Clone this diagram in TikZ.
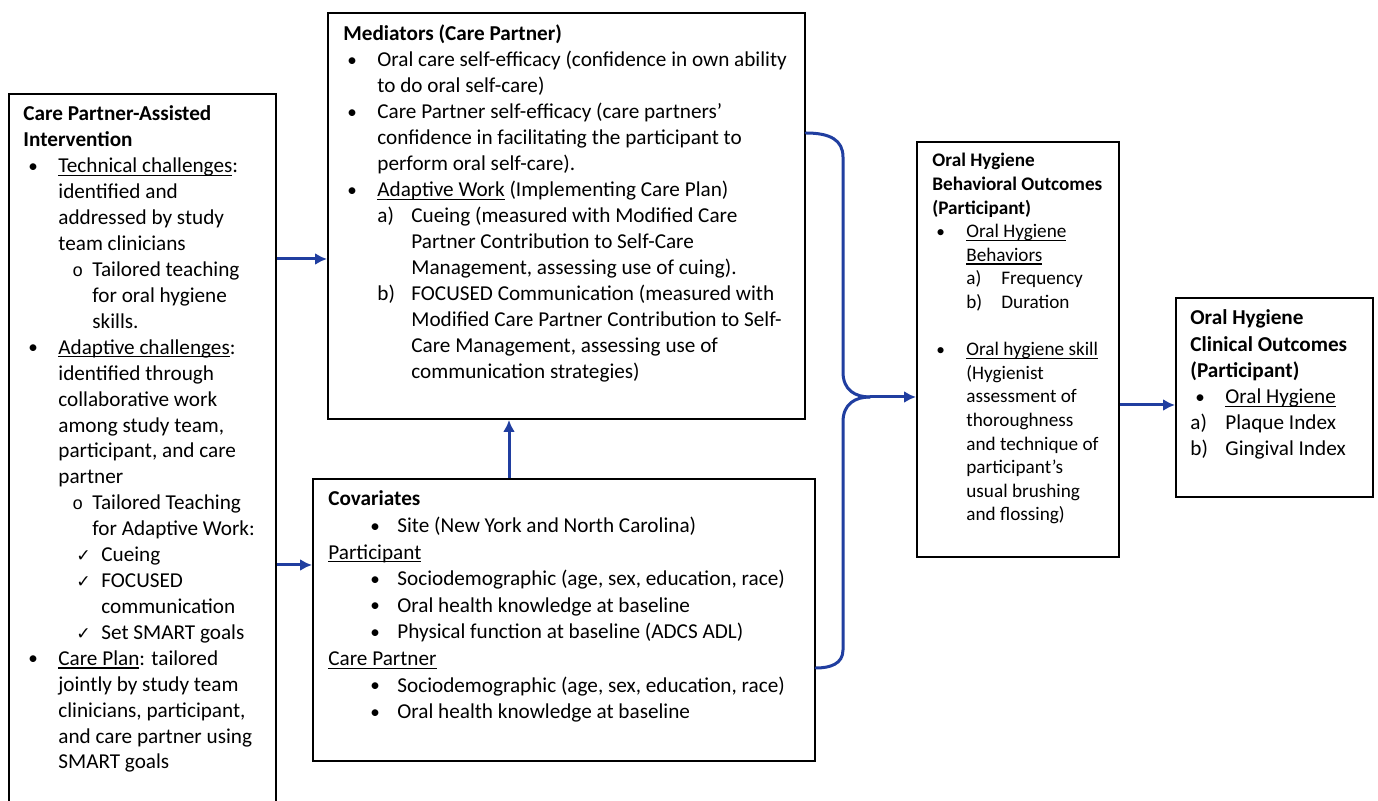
\documentclass[tikz,border=0pt]{standalone}
\usepackage{fontspec}
\setmainfont{Carlito}
\newfontfamily\dejavu{DejaVu Sans}
\newfontfamily\monof{Liberation Mono}
\usetikzlibrary{arrows.meta,fit}
\definecolor{arrblue}{RGB}{32,62,160}
\newcommand\ul[1]{\leavevmode\setbox0\hbox{#1}\rlap{\rule[-1.6pt]{\wd0}{0.55pt}}\box0\relax}
% marker at offset #1, text at offset #1+#2
\newcommand\Mk[4]{\leavevmode\hspace*{#1}\makebox[#2][l]{#3}#4}
\newcommand\bul{\raisebox{0.2pt}{\scalebox{0.9}{•}}}
\newcommand\circo{{\monof\fontsize{9}{9}\selectfont o}}
\newcommand\chk{{\dejavu\fontsize{8.6}{9}\selectfont ✓}}
\tikzset{
  box/.style={draw=black, line width=1pt, inner sep=0pt, fill=none},
  txt/.style={anchor=base west, inner sep=0pt, text=black},
  arr/.style={draw=arrblue, line width=1.5pt, -{Latex[length=6pt,width=6pt]}},
  brace/.style={draw=arrblue, line width=1.5pt, line cap=round},
}
\begin{document}
\begin{tikzpicture}[x=0.5pt,y=-0.5pt]
\useasboundingbox (0,0) rectangle (1378,801);
\fill[white] (0,0) rectangle (1378,801);
% boxes
\node[box, fit={(9,94) (276,812)}] (left) {};
\node[box, fit={(328,13) (805,419)}] (med) {};
\node[box, fit={(313,479) (815,761)}] (cov) {};
\node[box, fit={(917,142) (1119,557)}] (beh) {};
\node[box, fit={(1176,298) (1373,497)}] (cli) {};
% texts
\node[txt] (lefttxt) at (23,121) {\parbox[t]{130pt}{\fontsize{10.6}{12.96}\selectfont\raggedright
\textbf{Care Partner-Assisted}\\
\textbf{Intervention}\\
\Mk{2.5pt}{15pt}{\bul}{\ul{Technical challenges}:}\\
\hspace*{17.5pt}identified and\\
\hspace*{17.5pt}addressed by study\\
\hspace*{17.5pt}team clinicians\\
\Mk{24.5pt}{10pt}{\circo}{Tailored teaching}\\
\hspace*{34.5pt}for oral hygiene\\
\hspace*{34.5pt}skills.\\
\Mk{2.5pt}{15pt}{\bul}{\ul{Adaptive challenges}:}\\
\hspace*{17.5pt}identified through\\
\hspace*{17.5pt}collaborative work\\
\hspace*{17.5pt}among study team,\\
\hspace*{17.5pt}participant, and care\\
\hspace*{17.5pt}partner\\
\Mk{24.5pt}{10pt}{\circo}{Tailored Teaching}\\
\hspace*{34.5pt}for Adaptive Work:\\
\Mk{26.5pt}{12.5pt}{\chk}{Cueing}\\
\Mk{26.5pt}{12.5pt}{\chk}{FOCUSED}\\
\hspace*{39pt}communication\\
\Mk{26.5pt}{12.5pt}{\chk}{Set SMART goals}\\
\Mk{2.5pt}{15pt}{\bul}{\ul{Care Plan}: tailored}\\
\hspace*{17.5pt}jointly by study team\\
\hspace*{17.5pt}clinicians, participant,\\
\hspace*{17.5pt}and care partner using\\
\hspace*{17.5pt}SMART goals}};
\node[txt] (medtxt) at (343,41) {\parbox[t]{230pt}{\fontsize{10.6}{13}\selectfont\raggedright
\textbf{Mediators (Care Partner)}\\
\Mk{2pt}{15pt}{\bul}{Oral care self-efficacy (confidence in own ability}\\
\hspace*{17pt}to do oral self-care)\\
\Mk{2pt}{15pt}{\bul}{Care Partner self-efficacy (care partners’}\\
\hspace*{17pt}confidence in facilitating the participant to\\
\hspace*{17pt}perform oral self-care).\\
\Mk{2pt}{15pt}{\bul}{\ul{Adaptive Work} (Implementing Care Plan)}\\
\Mk{17pt}{17pt}{a)}{Cueing (measured with Modified Care}\\
\hspace*{34pt}Partner Contribution to Self-Care\\
\hspace*{34pt}Management, assessing use of cuing).\\
\Mk{17pt}{17pt}{b)}{FOCUSED Communication (measured with}\\
\hspace*{34pt}Modified Care Partner Contribution to Self-\\
\hspace*{34pt}Care Management, assessing use of\\
\hspace*{34pt}communication strategies)}};
\node[txt] (covtxt) at (328,506) {\parbox[t]{240pt}{\fontsize{10.6}{13.3}\selectfont\raggedright
\textbf{Covariates}\\
\Mk{21pt}{13.5pt}{\bul}{Site (New York and North Carolina)}\\
\ul{Participant}\\
\Mk{21pt}{13.5pt}{\bul}{Sociodemographic (age, sex, education, race)}\\
\Mk{21pt}{13.5pt}{\bul}{Oral health knowledge at baseline}\\
\Mk{21pt}{13.5pt}{\bul}{Physical function at baseline (ADCS ADL)}\\
\ul{Care Partner}\\
\Mk{21pt}{13.5pt}{\bul}{Sociodemographic (age, sex, education, race)}\\
\Mk{21pt}{13.5pt}{\bul}{Oral health knowledge at baseline}}};
\node[txt] (behtxt) at (932,167) {\parbox[t]{95pt}{\fontsize{9.6}{11.8}\selectfont\raggedright
\textbf{Oral Hygiene}\\
\textbf{Behavioral Outcomes}\\
\textbf{(Participant)}\\
\Mk{2pt}{15pt}{\bul}{\ul{Oral Hygiene}}\\
\hspace*{17pt}\ul{Behaviors}\\
\Mk{17pt}{17.5pt}{a)}{Frequency}\\
\Mk{17pt}{17.5pt}{b)}{Duration}\\
\mbox{}\\
\Mk{2pt}{15pt}{\bul}{\ul{Oral hygiene skill}}\\
\hspace*{17pt}(Hygienist\\
\hspace*{17pt}assessment of\\
\hspace*{17pt}thoroughness\\
\hspace*{17pt}and technique of\\
\hspace*{17pt}participant’s\\
\hspace*{17pt}usual brushing\\
\hspace*{17pt}and flossing)}};
\node[txt] (clitxt) at (1190,325) {\parbox[t]{95pt}{\fontsize{10.6}{13.1}\selectfont\raggedright
\textbf{Oral Hygiene}\\
\textbf{Clinical Outcomes}\\
\textbf{(Participant)}\\
\Mk{2.5pt}{15pt}{\bul}{\ul{Oral Hygiene}}\\
\makebox[17.5pt][l]{a)}Plaque Index\\
\makebox[17.5pt][l]{b)}Gingival Index}};
% connectors
\draw[arr] (left.east |- 0,259) -- (med.west |- 0,259);
\draw[arr] (left.east |- 0,565) -- (cov.west |- 0,565);
\draw[arr] (cov.north -| 509,0) -- (med.south -| 509,0);
\coordinate (tip) at (870,397);
\draw[brace] (med.east |- 0,133) .. controls (830,133) and (843,140) .. (843,157) -- (843,372) .. controls (843,390) and (855,397) .. (tip);
\draw[brace] (tip) .. controls (855,397) and (843,404) .. (843,422) -- (843,650) .. controls (843,664) and (830,668) .. (cov.east |- 0,668);
\draw[arr] (tip) -- (beh.west |- tip);
\draw[arr] (beh.east |- 0,405) -- (cli.west |- 0,405);
\end{tikzpicture}
\end{document}
